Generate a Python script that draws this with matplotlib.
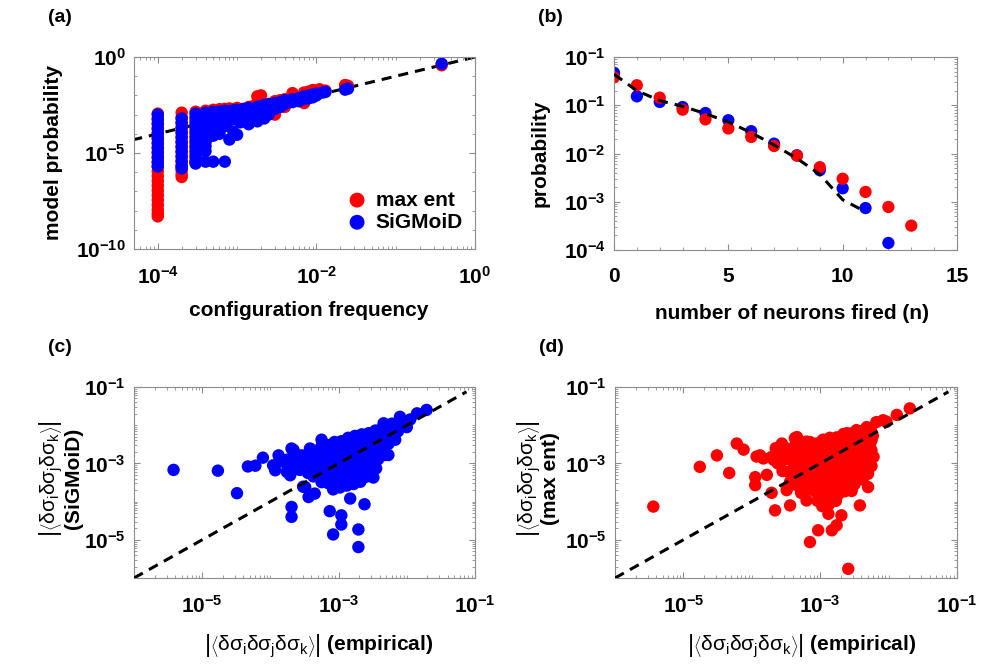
import numpy as np
import matplotlib
matplotlib.use("Agg")
import matplotlib.pyplot as plt
from matplotlib.ticker import LogLocator, MultipleLocator, NullFormatter

# ---------------- data ----------------
# (a) configuration frequency = count / n_samples, model probability as log10
n_samples = 1e4
a_red_counts = [1, 2, 3, 4, 5, 6, 7, 8, 9, 10, 12, 14, 16, 18, 20, 25, 30, 35,
                40, 50, 60, 70, 80, 90, 100, 110, 130, 230, 250, 3800]
a_red_logp = [
    [-2.95, -3.2, -3.45, -3.7, -3.95, -4.2, -4.45, -4.7, -4.95, -5.2, -5.45, -5.7,
     -5.95, -6.2, -6.45, -6.7, -6.95, -7.2, -7.45, -7.7, -7.95, -8.15, -8.3],
    [-2.9, -3.15, -3.4, -3.65, -3.9, -4.15, -4.4, -4.65, -4.9, -5.15, -5.4, -5.65,
     -5.9, -6.1, -6.25],
    [-2.85, -3.1, -3.35, -3.6, -3.85, -4.1, -4.35, -4.6, -4.85, -5.1, -5.35, -5.5],
    [-2.8, -3.05, -3.3, -3.55, -3.8, -4.05, -4.3, -4.4],
    [-2.75, -3.0, -3.25, -3.5, -3.75, -4.0],
    [-2.72, -2.95, -3.2, -3.45],
    [-2.7, -2.95, -3.2],
    [-2.68, -2.9, -3.15],
    [-2.72, -2.95],
    [-2.65, -2.9, -3.1],
    [-2.75, -2.95],
    [-2.6, -2.85],
    [-2.55],
    [-2.05, -2.6],
    [-2.0, -2.5],
    [-2.45, -2.75],
    [-2.3, -3.0],
    [-2.25],
    [-2.2, -2.6],
    [-1.88, -2.15],
    [-2.1],
    [-1.85, -2.4],
    [-1.8],
    [-1.72, -2.05],
    [-1.75],
    [-1.68],
    [-1.75],
    [-1.46],
    [-1.5],
    [-0.43],
]
a_blue_counts = [1, 2, 3, 4, 5, 6, 7, 8, 9, 10, 11, 12, 14, 16, 18, 20, 22, 25,
                 30, 35, 40, 45, 50, 60, 70, 80, 90, 100, 120, 130, 230, 250, 3800]
a_blue_logp = [
    [-3.0, -3.25, -3.5, -3.75, -4.0, -4.25, -4.5, -4.75, -5.0, -5.25, -5.5, -5.7],
    [-3.2, -3.45, -3.7, -3.95, -4.2, -4.45, -4.7, -4.95, -5.2, -5.45, -5.7, -5.8],
    [-2.95, -3.2, -3.45, -3.7, -3.95, -4.2, -4.45, -4.7, -4.95, -5.2, -5.45, -5.55],
    [-2.9, -3.15, -3.4, -3.65, -3.9, -4.15, -4.4, -4.65, -4.9, -5.45],
    [-2.85, -3.1, -3.35, -3.6, -3.85, -4.1, -5.45],
    [-2.85, -3.1, -3.35, -3.6, -4.0],
    [-2.8, -3.05, -3.3, -3.6, -5.45],
    [-2.82, -3.05, -3.3, -4.3],
    [-2.78, -3.0, -3.25, -3.9],
    [-2.75, -3.0, -3.2, -4.05],
    [-2.85, -3.4],
    [-2.7, -2.95, -3.25],
    [-2.65, -2.9, -3.5],
    [-2.7, -3.1],
    [-2.6, -2.9, -3.35],
    [-2.55, -2.85],
    [-2.5, -3.2],
    [-2.45, -2.75, -3.0],
    [-2.4, -2.7],
    [-2.35, -2.6],
    [-2.25, -2.45],
    [-2.3],
    [-2.2, -2.35],
    [-2.15, -2.3],
    [-2.05, -2.2],
    [-2.0, -2.15],
    [-1.95, -2.1],
    [-1.9, -2.0],
    [-1.85],
    [-1.82],
    [-1.7],
    [-1.65],
    [-0.35],
]

# (b) distribution of number of neurons fired
b_n_emp = [0, 1, 2, 3, 4, 5, 6, 7, 8, 9, 10, 11]
b_p_emp = [0.44, 0.2, 0.125, 0.095, 0.067, 0.045, 0.027, 0.015, 0.0079, 0.0037,
           0.0011, 0.00062]
b_n_sig = [0, 1, 2, 3, 4, 5, 6, 7, 8, 9, 10, 11, 12]
b_p_sig = [0.47, 0.153, 0.117, 0.092, 0.069, 0.049, 0.029, 0.016, 0.0092, 0.0045,
           0.0019, 0.00074, 0.00014]
b_n_me = [0, 1, 2, 3, 4, 5, 6, 7, 8, 9, 10, 11, 12, 13]
b_p_me = [0.38, 0.26, 0.144, 0.081, 0.051, 0.033, 0.022, 0.0143, 0.009, 0.0052,
          0.003, 0.0016, 0.00078, 0.00032]

# (c) triplet correlations, (log10 empirical, log10 SiGMoiD)
c_points = [
    (-5.42, -3.17), (-4.77, -3.19), (-4.49, -3.78), (-4.33, -3.08), (-4.22, -3.06),
    (-4.11, -2.85), (-3.96, -3.05), (-3.93, -3.18), (-3.88, -2.79), (-3.81, -2.96),
    (-3.69, -2.61), (-3.71, -3.31), (-3.69, -4.14), (-3.69, -4.40), (-3.54, -2.79),
    (-3.49, -3.62), (-3.44, -3.88), (-3.42, -2.61), (-3.35, -3.79), (-3.25, -2.38),
    (-3.25, -3.49), (-3.13, -4.25), (-3.08, -4.86), (-2.96, -4.36), (-2.96, -4.60),
    (-2.83, -3.92), (-2.71, -4.73), (-2.71, -5.19), (-2.62, -4.07), (-2.49, -3.37),
    (-2.39, -2.79), (-2.27, -2.05), (-2.22, -1.96), (-2.10, -1.78), (-1.85, -1.69),
    (-1.71, -1.60), (-1.95, -1.85), (-2.05, -1.90), (-2.34, -1.95), (-2.13, -2.00),
    (-3.76, -3.22), (-3.66, -2.65), (-3.57, -3.17), (-3.52, -2.82), (-3.52, -3.61),
    (-3.37, -3.34), (-2.27, -2.78), (-2.10, -2.04), (-2.00, -2.05), (-2.20, -2.30),
    (-3.75, -2.90), (-3.70, -3.05), (-3.60, -2.90), (-3.55, -3.15), (-3.48, -3.00),
    (-3.45, -3.25), (-3.42, -2.80),
    (-3.36, -2.72), (-3.33, -2.97), (-3.38, -3.18),
    (-3.26, -2.58), (-3.23, -2.87), (-3.27, -3.12), (-3.22, -3.33),
    (-3.16, -2.52), (-3.13, -2.76), (-3.17, -3.02), (-3.12, -3.24), (-3.15, -3.52),
    (-3.06, -2.44), (-3.03, -2.71), (-3.07, -2.93), (-3.02, -3.21), (-3.05, -3.44),
    (-3.08, -3.68),
    (-2.96, -2.42), (-2.93, -2.63), (-2.97, -2.91), (-2.92, -3.16), (-2.95, -3.38),
    (-2.98, -3.63),
    (-2.86, -2.33), (-2.83, -2.61), (-2.87, -2.84), (-2.82, -3.12), (-2.85, -3.36),
    (-2.88, -3.58),
    (-2.76, -2.28), (-2.73, -2.56), (-2.77, -2.79), (-2.72, -3.06), (-2.75, -3.31),
    (-2.78, -3.54),
    (-2.66, -2.24), (-2.63, -2.52), (-2.67, -2.74), (-2.62, -3.02), (-2.65, -3.24),
    (-2.68, -3.48),
    (-2.56, -2.21), (-2.53, -2.44), (-2.57, -2.71), (-2.52, -2.93), (-2.55, -3.18),
    (-2.46, -2.14), (-2.43, -2.41), (-2.47, -2.63), (-2.42, -2.89), (-2.45, -3.13),
    (-2.36, -2.08), (-2.33, -2.31), (-2.37, -2.54), (-2.32, -2.78),
    (-2.26, -2.04), (-2.23, -2.27), (-2.27, -2.49),
    (-2.16, -1.96), (-2.13, -2.16), (-2.17, -2.38),
    # in-between fill of the dense core
    (-3.31, -2.85), (-3.20, -2.70), (-3.10, -2.60), (-3.10, -2.85), (-3.10, -3.10),
    (-3.00, -2.55), (-3.00, -2.80), (-3.00, -3.05), (-3.00, -3.30), (-3.00, -3.55),
    (-2.90, -2.50), (-2.90, -2.75), (-2.90, -3.00), (-2.90, -3.25), (-2.90, -3.48),
    (-2.80, -2.45), (-2.80, -2.70), (-2.80, -2.95), (-2.80, -3.20), (-2.80, -3.45),
    (-2.70, -2.40), (-2.70, -2.65), (-2.70, -2.90), (-2.70, -3.15), (-2.70, -3.40),
    (-2.60, -2.35), (-2.60, -2.60), (-2.60, -2.85), (-2.60, -3.10), (-2.60, -3.35),
    (-2.50, -2.30), (-2.50, -2.55), (-2.50, -2.80), (-2.50, -3.05),
    (-2.40, -2.25), (-2.40, -2.50), (-2.40, -2.70), (-2.30, -2.20), (-2.30, -2.42),
]

# (d) triplet correlations, (log10 empirical, log10 max ent)
d_points = [
    (-5.44, -4.13), (-4.76, -3.09), (-4.51, -2.79), (-4.33, -3.25), (-4.22, -2.48),
    (-4.12, -2.64), (-3.95, -3.36), (-3.95, -3.57), (-3.88, -2.79), (-3.93, -2.82),
    (-3.83, -2.87), (-3.78, -3.30), (-3.71, -2.83), (-3.71, -3.77), (-3.66, -4.23),
    (-3.68, -2.91), (-3.56, -2.48), (-3.49, -3.70), (-3.44, -4.10), (-3.37, -2.34),
    (-3.34, -2.31), (-3.20, -3.97), (-3.15, -2.44), (-3.15, -5.06), (-3.03, -4.75),
    (-2.88, -4.32), (-2.83, -4.75), (-2.76, -4.62), (-2.59, -5.76), (-2.69, -4.36),
    (-2.42, -4.10), (-2.30, -3.62), (-2.30, -3.27), (-2.25, -2.66), (-2.25, -2.40),
    (-2.47, -2.13), (-2.32, -2.05), (-2.18, -1.92), (-2.08, -1.87), (-1.88, -1.73),
    (-1.69, -1.56), (-2.03, -1.91), (-3.05, -2.48), (-2.91, -2.39), (-2.61, -2.21),
    (-3.20, -2.43),
    (-3.58, -2.70), (-3.62, -3.00), (-3.55, -3.20), (-3.65, -2.60), (-3.52, -2.90),
    (-3.46, -2.62), (-3.43, -2.88), (-3.47, -3.22), (-3.44, -3.48),
    (-3.36, -2.53), (-3.33, -2.82), (-3.37, -3.03), (-3.34, -3.32), (-3.36, -3.56),
    (-3.26, -2.48), (-3.23, -2.77), (-3.27, -2.98), (-3.22, -3.27), (-3.25, -3.48),
    (-3.28, -3.77),
    (-3.16, -2.47), (-3.13, -2.68), (-3.17, -2.97), (-3.12, -3.18), (-3.15, -3.47),
    (-3.18, -3.68),
    (-3.06, -2.52), (-3.03, -2.73), (-3.07, -3.02), (-3.02, -3.23), (-3.05, -3.52),
    (-3.08, -3.73), (-3.04, -3.98),
    (-2.96, -2.38), (-2.93, -2.67), (-2.97, -2.88), (-2.92, -3.17), (-2.95, -3.38),
    (-2.98, -3.67), (-2.94, -3.88), (-2.97, -4.12),
    (-2.86, -2.33), (-2.83, -2.62), (-2.87, -2.83), (-2.82, -3.12), (-2.85, -3.33),
    (-2.88, -3.62), (-2.84, -3.83), (-2.87, -4.07),
    (-2.76, -2.32), (-2.73, -2.53), (-2.77, -2.82), (-2.72, -3.03), (-2.75, -3.32),
    (-2.78, -3.53), (-2.74, -3.82), (-2.77, -3.98),
    (-2.66, -2.23), (-2.63, -2.52), (-2.67, -2.73), (-2.62, -3.02), (-2.65, -3.23),
    (-2.68, -3.52), (-2.64, -3.73),
    (-2.56, -2.22), (-2.53, -2.43), (-2.57, -2.72), (-2.52, -2.93), (-2.55, -3.22),
    (-2.58, -3.43), (-2.54, -3.72),
    (-2.46, -2.18), (-2.43, -2.47), (-2.47, -2.68), (-2.42, -2.97), (-2.45, -3.18),
    (-2.48, -3.47),
    (-2.36, -2.13), (-2.33, -2.42), (-2.37, -2.63), (-2.32, -2.92), (-2.35, -3.13),
    (-2.38, -3.42),
    (-2.26, -2.12), (-2.23, -2.28), (-2.27, -2.57), (-2.22, -2.83), (-2.25, -3.07),
    # in-between fill of the dense core
    (-3.40, -2.70), (-3.40, -2.95), (-3.30, -2.65), (-3.30, -2.90), (-3.30, -3.15),
    (-3.20, -2.60), (-3.20, -2.85), (-3.20, -3.10), (-3.20, -3.35), (-3.20, -3.60),
    (-3.10, -2.58), (-3.10, -2.83), (-3.10, -3.08), (-3.10, -3.33), (-3.10, -3.58),
    (-3.00, -2.55), (-3.00, -2.80), (-3.00, -3.05), (-3.00, -3.30), (-3.00, -3.55),
    (-3.00, -3.80), (-2.90, -2.50), (-2.90, -2.75), (-2.90, -3.00), (-2.90, -3.25),
    (-2.90, -3.50), (-2.90, -3.75), (-2.80, -2.45), (-2.80, -2.70), (-2.80, -2.95),
    (-2.80, -3.20), (-2.80, -3.45), (-2.80, -3.70), (-2.80, -3.92), (-2.70, -2.40),
    (-2.70, -2.65), (-2.70, -2.90), (-2.70, -3.15), (-2.70, -3.40), (-2.70, -3.65),
    (-2.60, -2.35), (-2.60, -2.60), (-2.60, -2.85), (-2.60, -3.10), (-2.60, -3.35),
    (-2.60, -3.60), (-2.50, -2.30), (-2.50, -2.55), (-2.50, -2.80), (-2.50, -3.05),
    (-2.50, -3.30), (-2.50, -3.55), (-2.40, -2.28), (-2.40, -2.53), (-2.40, -2.78),
    (-2.40, -3.03), (-2.40, -3.28), (-2.30, -2.25), (-2.30, -2.50), (-2.30, -2.75),
    (-2.30, -3.00),
]

RED = "#ff0000"
BLUE = "#0000ff"
GREY = "#8c8c8c"

plt.rcParams.update({
    "font.family": ["Liberation Sans", "DejaVu Sans"],
    "font.weight": "bold",
    "axes.labelweight": "bold",
    "font.size": 15,
    "mathtext.fontset": "custom",
    "mathtext.rm": "Liberation Sans:weight=normal",
    "mathtext.it": "Liberation Sans:italic:weight=normal",
    "mathtext.bf": "Liberation Sans:bold",
    "axes.linewidth": 0.8,
    "axes.edgecolor": GREY,
})


def expand(counts, logps):
    x, y = [], []
    for c, col in zip(counts, logps):
        x += [c / n_samples] * len(col)
        y += [10.0 ** v for v in col]
    return x, y


def pow_label(e):
    return r"$\mathdefault{10^{%d}}$" % e


def style(ax, xpad=12):
    ax.tick_params(which="both", direction="in", top=True, right=True,
                   colors=GREY, labelcolor="black")
    ax.tick_params(which="major", length=4, width=0.8)
    ax.tick_params(which="minor", length=2, width=0.6)
    ax.tick_params(axis="x", pad=xpad)
    ax.tick_params(axis="y", pad=6)


def dashed(ax, x, y):
    ln, = ax.plot(x, y, color="black", lw=2.2, zorder=3)
    ln.set_dashes((3.3, 2.3))
    return ln


corr = r"$\left|\left\langle\mathrm{\delta\sigma_i\delta\sigma_j\delta\sigma_k}\right\rangle\right|$"

fig = plt.figure(figsize=(9.85, 6.66), dpi=100)
W, H = 985.0, 666.0
ax_a = fig.add_axes([134 / W, 1 - 249 / H, 341 / W, 192 / H])
ax_b = fig.add_axes([614 / W, 1 - 250 / H, 343 / W, 193 / H])
ax_c = fig.add_axes([134 / W, 1 - 578 / H, 341 / W, 191 / H])
ax_d = fig.add_axes([615 / W, 1 - 578 / H, 342 / W, 191 / H])

# ---------------- (a) ----------------
rx, ry = expand(a_red_counts, a_red_logp)
bx, by = expand(a_blue_counts, a_blue_logp)
ax_a.set_xscale("log")
ax_a.set_yscale("log")
ax_a.set_xlim(10 ** -4.3, 1)
ax_a.set_ylim(1e-10, 1)
ln = dashed(ax_a, [1e-6, 1], [1e-6, 1])
ln.set_zorder(1)
ax_a.scatter(rx, ry, s=80, color=RED, edgecolors="none", zorder=2, label="max ent")
ax_a.scatter(bx, by, s=80, color=BLUE, edgecolors="none", zorder=2.5, label="SiGMoiD")
ax_a.set_xticks([1e-4, 1e-2, 1], [pow_label(-4), pow_label(-2), pow_label(0)])
ax_a.xaxis.set_minor_locator(LogLocator(base=10, subs=np.arange(1, 10), numticks=20))
ax_a.xaxis.set_minor_formatter(NullFormatter())
ax_a.set_yticks([1e-10, 1e-5, 1], [pow_label(-10), pow_label(-5), pow_label(0)])
ax_a.yaxis.set_minor_locator(LogLocator(base=10, subs=[1.0], numticks=20))
ax_a.yaxis.set_minor_formatter(NullFormatter())
style(ax_a)
ax_a.set_xlabel("configuration frequency")
ax_a.set_ylabel("model probability")
ax_a.xaxis.set_label_coords(0.513, -0.27)
ax_a.yaxis.set_label_coords(-0.208, 0.5)
ax_a.legend(loc="lower right", bbox_to_anchor=(0.965, 0.09), frameon=False,
            borderpad=0, labelspacing=0.15, handlelength=0.8, handletextpad=0.5,
            markerscale=1.2, borderaxespad=0)

# ---------------- (b) ----------------
ax_b.set_yscale("log")
ax_b.set_xlim(0, 15)
ax_b.set_ylim(1e-4, 1)
ax_b.scatter(b_n_sig, b_p_sig, s=78, color=BLUE, edgecolors="none", zorder=2)
ax_b.scatter(b_n_me, b_p_me, s=78, color=RED, edgecolors="none", zorder=2.5)
dashed(ax_b, b_n_emp, b_p_emp)
ax_b.set_xticks([0, 5, 10, 15])
ax_b.xaxis.set_minor_locator(MultipleLocator(1))
ax_b.set_yticks([1, 1e-1, 1e-2, 1e-3, 1e-4],
                [pow_label(-1), pow_label(-1), pow_label(-2), pow_label(-3), pow_label(-4)])
ax_b.yaxis.set_minor_locator(LogLocator(base=10, subs=np.arange(2, 10), numticks=20))
ax_b.yaxis.set_minor_formatter(NullFormatter())
style(ax_b)
ax_b.set_xlabel("number of neurons fired (n)")
ax_b.set_ylabel("probability")
ax_b.xaxis.set_label_coords(0.519, -0.28)
ax_b.yaxis.set_label_coords(-0.187, 0.5)

# ---------------- (c) and (d) ----------------
for ax, pts, col, name in [(ax_c, c_points, BLUE, "(SiGMoiD)"),
                           (ax_d, d_points, RED, "(max ent)")]:
    ex, mx = np.array(pts).T
    ax.set_xscale("log")
    ax.set_yscale("log")
    ax.set_xlim(1e-6, 1e-1)
    ax.set_ylim(1e-6, 1e-1)
    ax.scatter(10.0 ** ex, 10.0 ** mx, s=80, color=col, edgecolors="none", zorder=2)
    dashed(ax, [1e-6, 0.075], [1e-6, 0.075])
    ticks = [1e-5, 1e-3, 1e-1]
    labels = [pow_label(-5), pow_label(-3), pow_label(-1)]
    ax.set_xticks(ticks, labels)
    ax.set_yticks(ticks, labels)
    for axis in (ax.xaxis, ax.yaxis):
        axis.set_minor_locator(LogLocator(base=10, subs=np.arange(1, 10), numticks=20))
        axis.set_minor_formatter(NullFormatter())
    style(ax)
    ax.set_xlabel(corr + " (empirical)")
    ax.set_ylabel(corr + "\n" + name, linespacing=0.9)

ax_c.xaxis.set_label_coords(0.543, -0.285)
ax_c.yaxis.set_label_coords(-0.15, 0.52)
ax_d.xaxis.set_label_coords(0.547, -0.285)
ax_d.yaxis.set_label_coords(-0.16, 0.52)

# panel letters
for lab, px, py in [("(a)", 48, 17), ("(b)", 538, 17), ("(c)", 48, 347), ("(d)", 539, 347)]:
    fig.text(px / W, 1 - py / H, lab, fontsize=14, fontweight="bold", va="center")

fig.savefig("out.png", dpi=100, facecolor="white")
